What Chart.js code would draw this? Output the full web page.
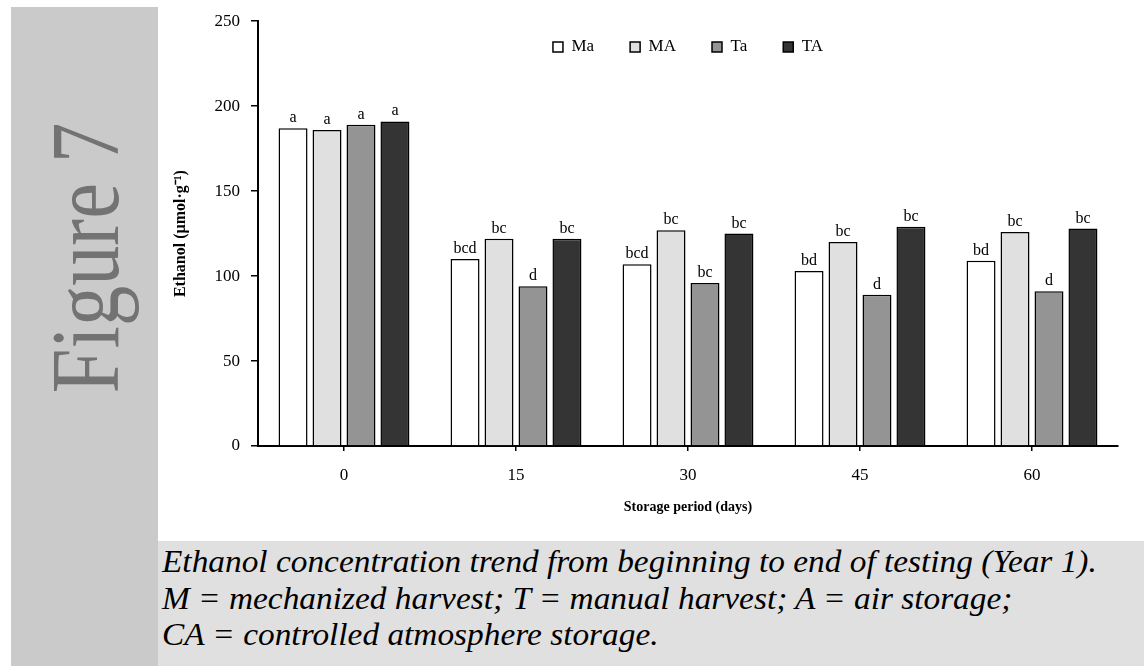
<!DOCTYPE html>
<html>
<head>
<meta charset="utf-8">
<script src="https://cdn.jsdelivr.net/npm/chart.js@4"></script>
<style>
  body { margin: 0; width: 1144px; height: 666px; overflow: hidden; position: relative; background: #fff; font-family: "Liberation Serif", "Times New Roman", serif; }
  #side { position: absolute; left: 11px; top: 7px; width: 147px; height: 659px; background: #cacaca; }
  #fig { position: absolute; left: 74px; top: 251px; font-size: 98px; line-height: 1; color: #737373; white-space: nowrap; font-family: "Liberation Serif", serif; }
  #cap { position: absolute; left: 158px; top: 541px; width: 986px; height: 125px; background: #e0e0e0; }
  .line { position: absolute; left: 4px; font-size: 32px; line-height: 1; font-style: italic; white-space: nowrap; transform-origin: 0 0; color: #000; font-family: "Liberation Serif", serif; }
  #wrap { position: absolute; left: 158px; top: 0; width: 986px; height: 542px; }
</style>
</head>
<body>
<div id="side"><span id="fig">Figure 7</span></div>
<div id="cap">
  <div class="line" style="top:4px">Ethanol concentration trend from beginning to end of testing (Year 1).</div>
  <div class="line" style="top:41px">M = mechanized harvest; T = manual harvest; A = air storage;</div>
  <div class="line" style="top:77px">CA = controlled atmosphere storage.</div>
</div>
<div id="wrap"><canvas id="chart"></canvas></div>
<script>
// Datos
const periods = ['0', '15', '30', '45', '60'];
const seriesNames = ['Ma', 'MA', 'Ta', 'TA'];
const valuesMa = [187, 110, 107, 103, 109];
const valuesMA = [186, 122, 127, 120, 126];
const valuesTa = [189, 94, 96, 89, 91];
const valuesTA = [191, 122, 125, 129, 128];
const lettersMa = ['a', 'bcd', 'bcd', 'bd', 'bd'];
const lettersMA = ['a', 'bc', 'bc', 'bc', 'bc'];
const lettersTa = ['a', 'd', 'bc', 'd', 'd'];
const lettersTA = ['a', 'bc', 'bc', 'bc', 'bc'];
const yTicks = [0, 50, 100, 150, 200, 250];

const colors = ['#ffffff', '#e0e0e0', '#949494', '#343434'];
const allValues = [valuesMa, valuesMA, valuesTa, valuesTA];
const allLetters = [lettersMa, lettersMA, lettersTa, lettersTA];

// Fit the side title and caption widths (the original uses a narrow serif)
const fig = document.getElementById('fig');
const fs = 270 / fig.offsetWidth;
fig.style.transform = 'translate(-50%,-50%) rotate(-90deg) scaleX(' + fs + ')';
const lines = document.querySelectorAll('.line');
const cs = 935 / lines[0].offsetWidth;
lines.forEach(l => { l.style.transform = 'scaleX(' + cs + ')'; });

Chart.defaults.font.family = '"Liberation Serif", serif';
Chart.defaults.color = '#000';

// letters above every bar
const lettersPlugin = {
  id: 'letters',
  afterDatasetsDraw(chart) {
    const ctx = chart.ctx;
    ctx.save();
    ctx.font = '16px "Liberation Serif"';
    ctx.fillStyle = '#000';
    ctx.textAlign = 'center';
    ctx.textBaseline = 'alphabetic';
    chart.data.datasets.forEach((ds, i) => {
      chart.getDatasetMeta(i).data.forEach((bar, j) => {
        ctx.fillText(allLetters[i][j], bar.x, bar.y - 6);
      });
    });
    ctx.restore();
  }
};

// legend sits inside the plot, centred on it
const legendPlace = {
  id: 'legendPlace',
  afterLayout(chart) {
    const lg = chart.legend;
    const a = chart.chartArea;
    lg.left = a.left;
    lg.right = a.right;
    lg.width = a.right - a.left;
    lg.top = 2.5;
    lg.height = 70;
    lg.bottom = lg.top + 70;
  }
};

new Chart(document.getElementById('chart'), {
  type: 'bar',
  data: {
    labels: periods,
    datasets: seriesNames.map((name, i) => ({
      label: name,
      data: allValues[i],
      backgroundColor: colors[i],
      borderColor: '#000',
      borderWidth: 1.5,
      categoryPercentage: 0.79,
      barPercentage: 0.853
    }))
  },
  options: {
    responsive: true,
    maintainAspectRatio: false,
    animation: false,
    layout: { padding: { top: 15, right: 26, bottom: 0, left: 0 } },
    plugins: {
      tooltip: { enabled: false },
      legend: {
        position: 'top',
        maxHeight: 1,
        labels: { boxWidth: 10, boxHeight: 10, padding: 36, color: '#000', font: { size: 17 } }
      }
    },
    scales: {
      x: {
        grid: { drawOnChartArea: false, offset: false, color: '#000', lineWidth: 1.5, tickLength: 5 },
        border: { color: '#000', width: 2 },
        ticks: { color: '#000', font: { size: 17 }, padding: 14 },
        title: { display: true, text: 'Storage period (days)', color: '#000', font: { size: 14, weight: 'bold' }, padding: { top: 0, bottom: 26 } },
        afterFit(s) { s.height = 96; }
      },
      y: {
        min: 0,
        max: 250,
        afterBuildTicks(s) { s.ticks = yTicks.map(v => ({ value: v })); },
        grid: { drawOnChartArea: false, color: '#000', lineWidth: 1.5, tickLength: 7 },
        border: { color: '#000', width: 2 },
        ticks: { color: '#000', font: { size: 17 }, padding: 11 },
        title: { display: true, text: 'Ethanol (µmol·g⁻¹)', color: '#000', font: { size: 16, weight: 'bold' }, padding: { top: 13, bottom: 0 } },
        afterFit(s) { s.width = 100; }
      }
    }
  },
  plugins: [lettersPlugin, legendPlace]
});
</script>
</body>
</html>
